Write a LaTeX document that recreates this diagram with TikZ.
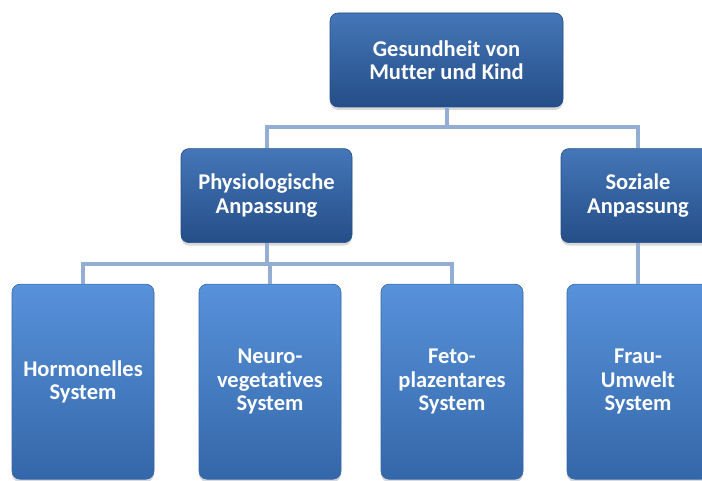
\documentclass[tikz,border=0pt]{standalone}
\usepackage{fontspec}
\setmainfont{Carlito}[Ligatures=CommonOff]
\usepackage{tikz}
\usetikzlibrary{positioning,shadows}
\definecolor{obenhell}{HTML}{4576B8}
\definecolor{obendunkel}{HTML}{244E87}
\definecolor{untenhell}{HTML}{5892DA}
\definecolor{untendunkel}{HTML}{3467A9}
\definecolor{linie}{HTML}{94AED3}
\tikzset{kante/.style={line width=4pt, draw=linie}}
\tikzset{kasten/.style={rectangle, rounded corners=8pt, inner sep=0pt, align=center,
    text=white, font=\fontsize{22.5}{23.5}\selectfont\bfseries,
    drop shadow={shadow xshift=0pt, shadow yshift=-3pt, opacity=0.3}}}
\tikzset{ebene1/.style={kasten, top color=obenhell, bottom color=obendunkel,
    draw=obendunkel, line width=0.6pt, minimum height=94pt}}
\tikzset{ebene2/.style={kasten, top color=untenhell, bottom color=untendunkel,
    draw=untendunkel, line width=0.6pt, minimum width=142pt, minimum height=195pt}}

\begin{document}
\begin{tikzpicture}[x=1pt, y=-1pt]
            \useasboundingbox (0,0) rectangle (702,481);
            \clip (0,0) rectangle (702,481);

            \node[ebene1, minimum width=233pt] (1) at (446.5,60) {Gesundheit von\\Mutter und Kind};
            \node[ebene1, minimum width=171pt, below= 41pt of 1, xshift=-180pt] (2) {Physiologische\\Anpassung};
            \node[ebene1, minimum width=154pt, below= 41pt of 1, xshift=191.5pt] (3) {Soziale\\Anpassung};

            \node[ebene2, below= 41pt of 2, xshift=-183.5pt] (4) {Hormonelles\\System};
            \node[ebene2, below= 41pt of 2, xshift=3.5pt]    (5) {Neuro-\\vegetatives\\System};
            \node[ebene2, below= 41pt of 2, xshift=185.5pt]  (6) {Feto-\\plazentares\\System};
            \node[ebene2, below= 41pt of 3]                  (7) {Frau-\\Umwelt\\System};

            \begin{scope}[on background layer/.try]
            \draw[kante] (1.south) -- ++(0,20) -| (2.north);
            \draw[kante] (1.south) -- ++(0,20) -| (3.north);
            \draw[kante] (2.south) -- ++(0,21) -| (4.north);
            \draw[kante] (2.south) -- ++(0,21) -| (5.north);
            \draw[kante] (2.south) -- ++(0,21) -| (6.north);
            \draw[kante] (3) -- (7);
            \end{scope}
        \end{tikzpicture}
\end{document}
